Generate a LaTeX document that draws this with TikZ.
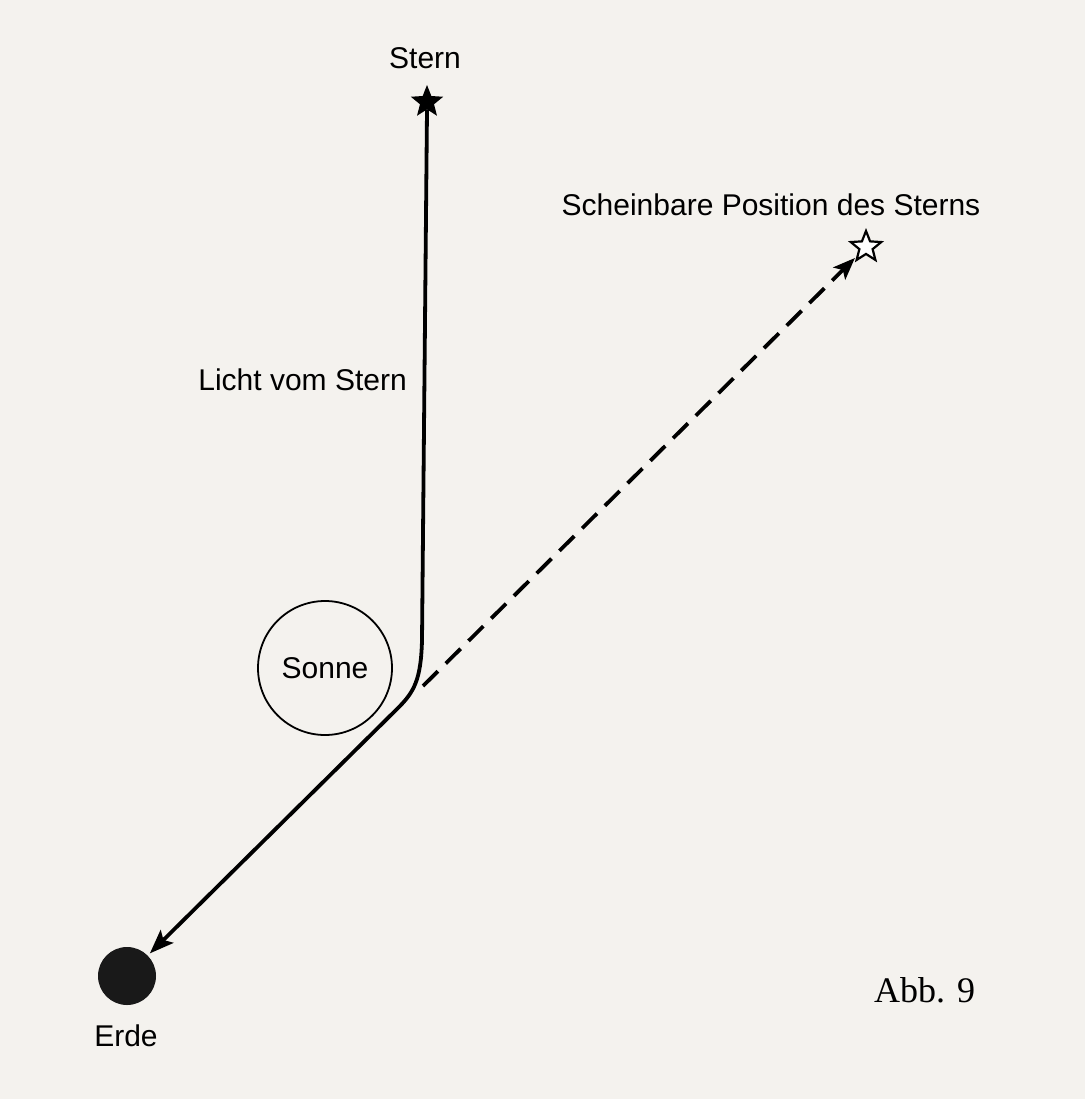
\documentclass[tikz,border=0pt]{standalone}
\usepackage{fontspec}
\usepackage{xcolor}
\usepackage{tikz}
\usetikzlibrary{arrows.meta,positioning,shapes.geometric,calc}
\setmainfont{Liberation Serif}
\newfontfamily\beschrift{Liberation Sans}
\definecolor{papier}{RGB}{244,242,238}

\begin{document}
\begin{tikzpicture}[x=1pt, y=-1pt,
  beschr/.style={font=\beschrift\fontsize{30}{34}\selectfont, inner sep=0pt},
  sternvoll/.style={star, star points=5, star point ratio=2.3, fill=black,
    minimum size=34pt, inner sep=0pt},
  sternleer/.style={star, star points=5, star point ratio=2.3, draw, line width=2.2pt,
    fill=white, minimum size=32pt, inner sep=0pt},
  sonnekreis/.style={circle, draw, line width=1.8pt, minimum size=134pt, inner sep=0pt,
    font=\beschrift\fontsize{30}{34}\selectfont},
  erdpunkt/.style={circle, fill=black!90, minimum size=58pt, inner sep=0pt},
  lichtweg/.style={line width=3.8pt, -{Stealth[length=24pt, width=18pt, inset=5pt]}},
  scheinweg/.style={line width=3.8pt, dash pattern=on 21pt off 11pt,
    -{Stealth[length=22pt, width=17pt, inset=5pt]}},
]
  \fill[papier] (0,0) rectangle (1085,1099);
  \useasboundingbox (0,0) rectangle (1085,1099);

  % Himmelskoerper
  \node[sternvoll] (stern) at (427,102) {};
  \node[sternleer] (schein) at (866,247) {};
  \node[sonnekreis] (sonne) at (325,668) {Sonne};
  \node[erdpunkt] (erde) at (127,976) {};

  % Beschriftungen
  \node[beschr, anchor=base] (sternlbl) at (425,69) {Stern};
  \node[beschr, anchor=base] (scheinlbl) at (771,216) {Scheinbare Position des Sterns};
  \node[beschr, anchor=base east] (lichtlbl) at (407,390) {Licht vom Stern};
  \node[beschr, anchor=base] (erdelbl) at (126,1046) {Erde};
  \node[font=\fontsize{36}{40}\selectfont, inner sep=0pt, anchor=base west]
    (abb) at (874,1002) {Abb. 9};

  % Lichtweg und scheinbare Richtung
  \coordinate (bieg) at (422,640);
  \coordinate (ablenk) at (398,708);
  \coordinate (knick) at (423,686);
  \draw[lichtweg, shorten >=3pt] (stern.south) -- (bieg)
    .. controls (421,680) and (414,692) .. (ablenk) -- (erde);
  \draw[scheinweg, shorten >=2pt] (knick) -- (schein);
\end{tikzpicture}
\end{document}
